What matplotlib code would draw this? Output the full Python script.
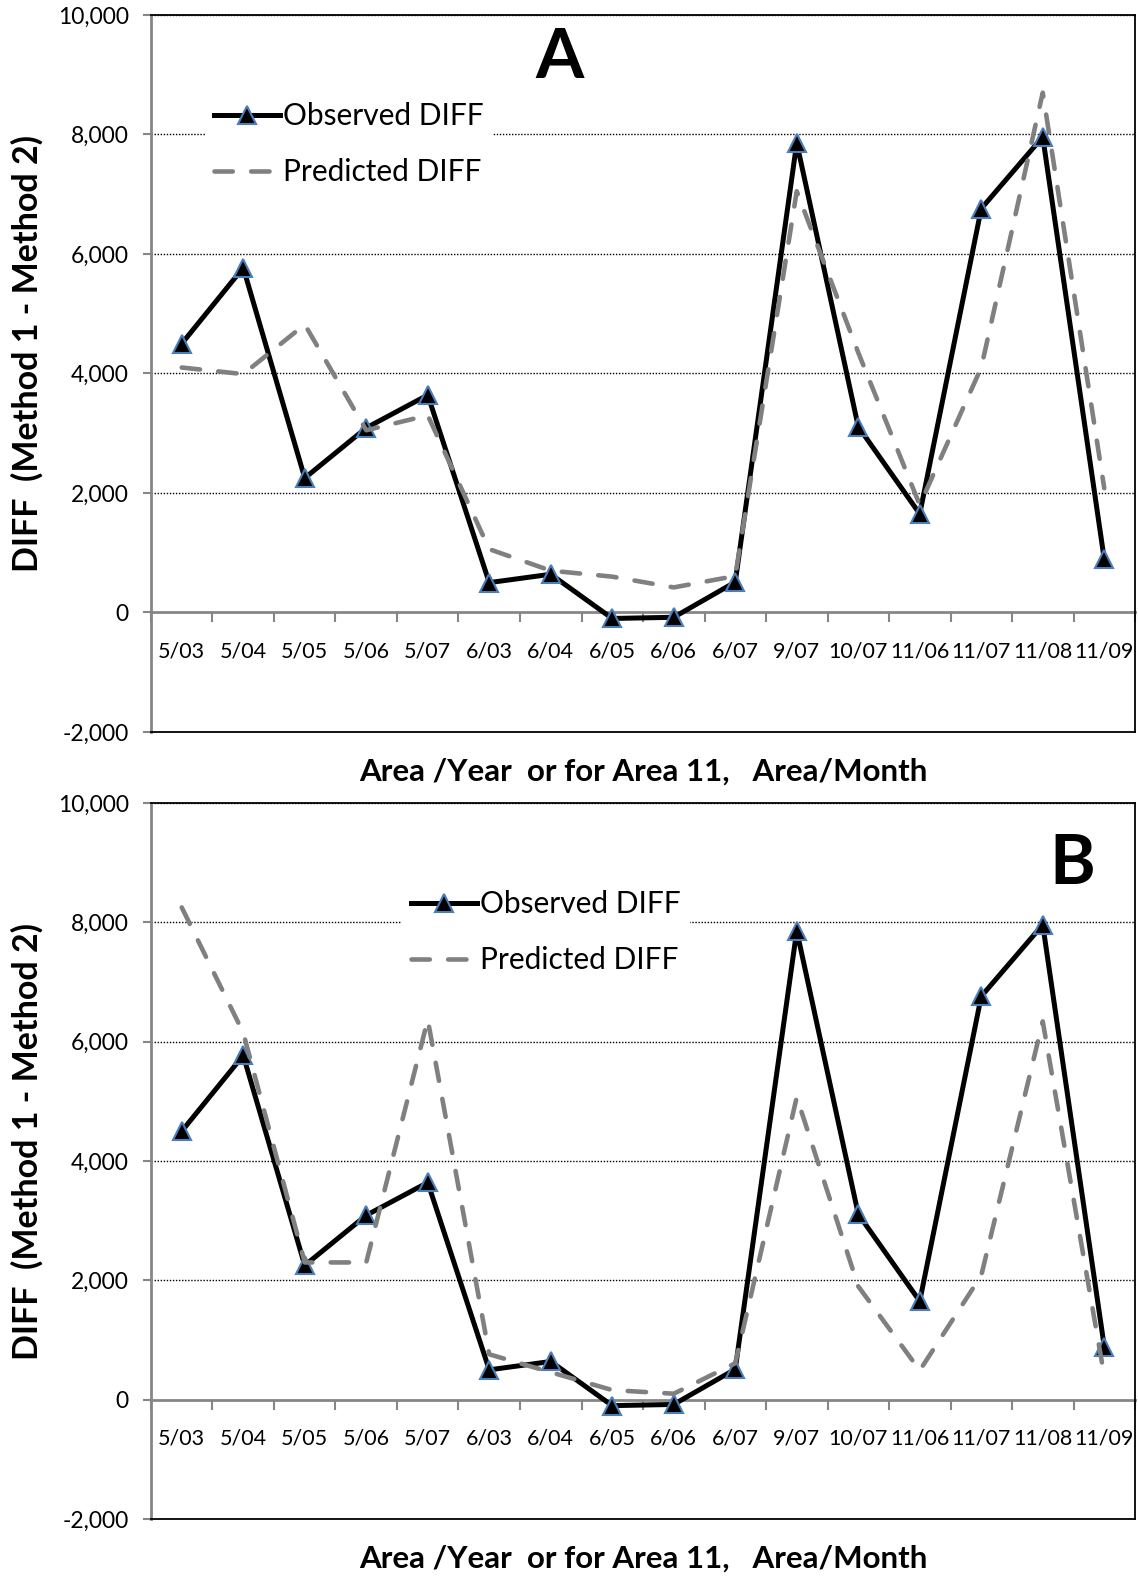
import numpy as np
import matplotlib.pyplot as plt
from matplotlib.lines import Line2D
from matplotlib.ticker import FuncFormatter

plt.rcParams['font.family'] = ['Lato', 'DejaVu Sans']

cats = ["5/03", "5/04", "5/05", "5/06", "5/07", "6/03", "6/04", "6/05",
        "6/06", "6/07", "9/07", "10/07", "11/06", "11/07", "11/08", "11/09"]
observed = [4500, 5770, 2250, 3090, 3640, 500, 640, -100,
            -80, 510, 7860, 3110, 1650, 6760, 7960, 890]
pred_a = [4100, 3990, 4820, 3050, 3300, 1060, 700, 600,
          420, 610, 7050, 4350, 1800, 4100, 8700, 2080]
pred_b = [8250, 6150, 2300, 2300, 6370, 760, 460, 160,
          100, 610, 5070, 1900, 490, 2080, 6340, 400]
yticks = [-2000, 0, 2000, 4000, 6000, 8000, 10000]

W, H = 1138, 1579
fig = plt.figure(figsize=(W / 100, H / 100), dpi=100)

GRAY = '#868686'
x = np.arange(len(cats))

# panel: letter, predicted series, axes top/bottom px, legend anchor, letter pos
panels = [
    ("A", pred_a, 15, 732, (0.055, 0.891), (560, 59)),
    ("B", pred_b, 803, 1519, (0.255, 0.891), (1072, 864)),
]

for letter, pred, top, bot, leg_pos, let_xy in panels:
    left, right = 151, 1135
    ax = fig.add_axes([left / W, 1 - bot / H, (right - left) / W, (bot - top) / H])
    ax.set_xlim(-0.5, len(cats) - 0.5)
    ax.set_ylim(yticks[0], yticks[-1])

    for g in yticks[2:]:
        ax.axhline(g, color='black', lw=1, ls=(0, (1, 1.2)), zorder=1)

    ax.plot(x, observed, color='black', lw=3.6, marker='^', ms=13,
            mfc='black', mec='#4a7ebb', mew=1.5, zorder=3)
    ax.plot(x, pred, color='#808080', lw=3.3, dashes=(4, 4),
            dash_capstyle='round', zorder=4)

    ax.set_yticks(yticks)
    ax.yaxis.set_major_formatter(FuncFormatter(lambda v, p: f"{int(v):,}"))
    ax.tick_params(axis='y', direction='out', length=6, color=GRAY, width=1.5,
                   labelsize=16.5, pad=10)
    ax.tick_params(axis='x', bottom=False, labelbottom=False)
    for s in ['top', 'right', 'bottom']:
        ax.spines[s].set_color('black')
        ax.spines[s].set_linewidth(1.3)
    ax.spines['left'].set_color(GRAY)
    ax.spines['left'].set_linewidth(2)

    # category axis crossing at zero
    zero_frac = (0 - yticks[0]) / (yticks[-1] - yticks[0])
    sec = ax.secondary_xaxis(zero_frac)
    sec.set_xticks(np.arange(-0.5, len(cats), 1.0))
    sec.set_xticklabels([])
    sec.set_xticks(x, labels=cats, minor=True)
    sec.tick_params(which='major', direction='out', length=7, color=GRAY, width=1.5)
    sec.tick_params(which='minor', length=0, pad=21, labelsize=15.5)
    sec.spines['bottom'].set_color(GRAY)
    sec.spines['bottom'].set_linewidth(2)

    handles = [
        Line2D([], [], color='black', lw=3.6, marker='^', ms=13,
               mfc='black', mec='#4a7ebb', mew=1.5),
        Line2D([], [], color='#808080', lw=3.3, dashes=(4, 4),
               dash_capstyle='round'),
    ]
    leg = ax.legend(handles, ["Observed DIFF", "Predicted DIFF"],
                    loc='upper left', bbox_to_anchor=leg_pos, fontsize=21.5,
                    frameon=True, fancybox=False, facecolor='white',
                    edgecolor='none', framealpha=1, handlelength=2.2,
                    handletextpad=0.12, labelspacing=0.95, borderpad=0.3,
                    borderaxespad=0)
    leg.set_zorder(5)

    fig.text(let_xy[0] / W, 1 - let_xy[1] / H, letter, fontsize=50,
             fontweight='bold', ha='center', va='center')
    fig.text(27 / W, 1 - ((top + bot) / 2 - 20) / H, "DIFF  (Method 1 - Method 2)",
             rotation=90, fontsize=24.5, fontweight='bold', ha='center', va='center')
    fig.text(643 / W, 1 - (bot + 40) / H, "Area /Year  or for Area 11,   Area/Month",
             fontsize=22.5, fontweight='bold', ha='center', va='center')

fig.savefig('out.png', dpi=100)
